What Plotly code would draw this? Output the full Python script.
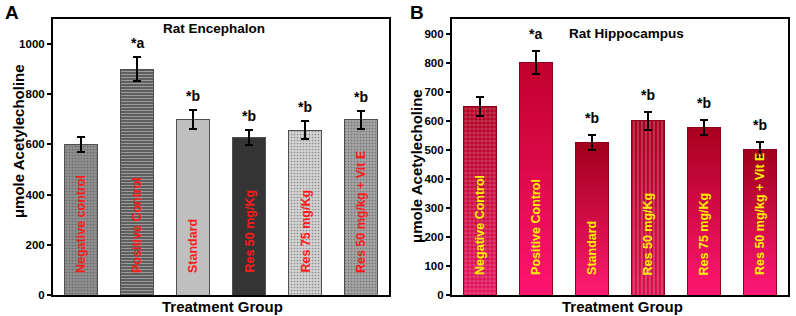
import plotly.graph_objects as go

# ---------------- data ----------------
groups_a = ["Negative control", "Positive Control", "Standard",
            "Res 50 mg/Kg", "Res 75 mg/Kg", "Res 50 mg/kg + Vit E"]
values_a = [600, 900, 700, 627, 657, 698]
errors_a = [30, 47, 37, 30, 35, 35]
sig_a = ["", "*a", "*b", "*b", "*b", "*b"]
ticks_a = [0, 200, 400, 600, 800, 1000]

groups_b = ["Negative Control", "Positive Control", "Standard",
            "Res 50 mg/Kg", "Res 75 mg/Kg", "Res 50 mg/kg + Vit E"]
values_b = [650, 801, 525, 600, 577, 500]
errors_b = [33, 39, 26, 31, 27, 25]
sig_b = ["", "*a", "*b", "*b", "*b", "*b"]
ticks_b = [0, 100, 200, 300, 400, 500, 600, 700, 800, 900]

title_a = "Rat Encephalon"
title_b = "Rat Hippocampus"
y_title = "μmole Acetylecholine"
x_title = "Treatment Group"

# ---------------- styles ----------------
FONT = "Liberation Sans, Arial, sans-serif"
colors_a = ["#8f8f8f", "#5f5f5f", "#bfbfbf", "#343434", "#d3d3d3", "#a3a3a3"]
pat_shape_a = [".", "-", "", "", ".", "."]
pat_fg_a = ["rgba(70,70,70,0.25)", "rgba(40,40,40,0.3)", "rgba(0,0,0,0)",
            "rgba(0,0,0,0)", "rgba(120,120,120,0.3)", "rgba(80,80,80,0.25)"]

grad_bottom_b = ["#e3125c", "#ff1470", "#ff1a72", "#d8104e", "#ff1670", "#ff1878"]
grad_top_b = ["#b00020", "#c0002c", "#a0001a", "#a8001e", "#a8001e", "#a0001a"]
pat_shape_b = ["+", "", "", "|", "", ""]
N_SEG = 28


def hex2rgb(h):
    h = h.lstrip("#")
    return tuple(int(h[i:i + 2], 16) for i in (0, 2, 4))


def mix(c0, c1, t):
    a, b = hex2rgb(c0), hex2rgb(c1)
    return "rgb(%d,%d,%d)" % tuple(round(a[i] + (b[i] - a[i]) * t) for i in range(3))


fig = go.Figure()

# Panel A bars
fig.add_trace(go.Bar(
    x=groups_a, y=values_a, xaxis="x", yaxis="y",
    marker=dict(color=colors_a, line=dict(color="#505050", width=1),
                pattern=dict(shape=pat_shape_a, fgcolor=pat_fg_a, fillmode="overlay",
                             size=3, solidity=0.25)),
    error_y=dict(type="data", array=errors_a, color="black", thickness=2, width=4),
    showlegend=False, hoverinfo="skip"))

# Panel B bars: vertical gradient built from stacked slices of each value
for k in range(N_SEG):
    t = (k + 0.5) / N_SEG
    fig.add_trace(go.Bar(
        x=groups_b, y=[v / N_SEG for v in values_b], xaxis="x2", yaxis="y2",
        marker=dict(color=[mix(b0, b1, t) for b0, b1 in zip(grad_bottom_b, grad_top_b)],
                    line=dict(width=0),
                    pattern=dict(shape=pat_shape_b, fgcolor="rgba(110,0,25,0.25)",
                                 fillmode="overlay", size=4, solidity=0.2)),
        showlegend=False, hoverinfo="skip"))

# Panel B outline + error bars
fig.add_trace(go.Bar(
    x=groups_b, y=values_b, xaxis="x3", yaxis="y3",
    marker=dict(color="rgba(0,0,0,0)", line=dict(color="#8a0018", width=1)),
    error_y=dict(type="data", array=errors_b, color="black", thickness=2, width=4),
    showlegend=False, hoverinfo="skip"))

ann = []
bold = dict(family=FONT, weight="bold")

for g, v, e, s in zip(groups_a, values_a, errors_a, sig_a):
    if s:
        ann.append(dict(x=g, y=v + e, xref="x", yref="y", text=s, showarrow=False,
                        xanchor="center", yanchor="bottom", yshift=4,
                        font=dict(size=14, color="black", **bold)))
    ann.append(dict(x=g, y=0, xref="x", yref="y", text=g, showarrow=False, textangle=-90,
                    xanchor="center", yanchor="bottom", yshift=20,
                    font=dict(size=12.5, color="#ff1a1a", **bold)))

for g, v, e, s in zip(groups_b, values_b, errors_b, sig_b):
    if s:
        ann.append(dict(x=g, y=v + e, xref="x2", yref="y2", text=s, showarrow=False,
                        xanchor="center", yanchor="bottom", yshift=7,
                        font=dict(size=14, color="black", **bold)))
    ann.append(dict(x=g, y=0, xref="x2", yref="y2", text=g, showarrow=False, textangle=-90,
                    xanchor="center", yanchor="bottom", yshift=18,
                    font=dict(size=12.5, color="#ffee00", **bold)))

# margins: l=53, r=6, t=19, b=21 -> plot area 737 x 276
def px_x(p):
    return (p - 53) / 737


def px_y(p):
    return (295 - p) / 276


def label(px, py, text, size, angle=0):
    return dict(x=px_x(px), y=px_y(py), xref="paper", yref="paper", text=text,
                showarrow=False, xanchor="center", yanchor="middle", textangle=angle,
                font=dict(size=size, color="black", **bold))


ann += [
    label(214, 28, title_a, 13.5),
    label(628, 33, title_b, 13.5),
    label(18, 141, y_title, 15, -90),
    label(418, 166, y_title, 15, -90),
    label(223, 306, x_title, 15),
    label(624, 306, x_title, 15),
    label(12, 12, "A", 19),
    label(418, 12, "B", 19),
]

dom_a = [0, px_x(390)]
dom_b = [px_x(453), 1]

xcommon = dict(showticklabels=False, ticks="", showline=True, linecolor="black", linewidth=2,
               mirror=True, showgrid=False, zeroline=False, range=[-0.5, 5.5], type="category")
ycommon = dict(showline=True, linecolor="black", linewidth=2, mirror=True, showgrid=False,
               zeroline=False, ticks="outside", ticklen=4, tickwidth=1.5, tickcolor="black",
               tickfont=dict(size=11.5, color="black", **bold))

fig.update_layout(
    width=796, height=316,
    margin=dict(l=53, r=6, t=19, b=21),
    paper_bgcolor="white", plot_bgcolor="white",
    barmode="stack", bargap=0.4,
    font=dict(family=FONT),
    xaxis=dict(domain=dom_a, anchor="y", **xcommon),
    yaxis=dict(domain=[0, 1], anchor="x", range=[0, 1100], tickvals=ticks_a, **ycommon),
    xaxis2=dict(domain=dom_b, anchor="y2", **xcommon),
    yaxis2=dict(domain=[0, 1], anchor="x2", range=[0, 950], tickvals=ticks_b, **ycommon),
    xaxis3=dict(domain=dom_b, anchor="y3", overlaying="x2", visible=False, range=[-0.5, 5.5],
                type="category"),
    yaxis3=dict(domain=[0, 1], anchor="x3", overlaying="y2", visible=False, range=[0, 950]),
    annotations=ann,
)

fig.write_html("out.html", config={"displayModeBar": False},
               post_script="document.body.style.margin='0';")
